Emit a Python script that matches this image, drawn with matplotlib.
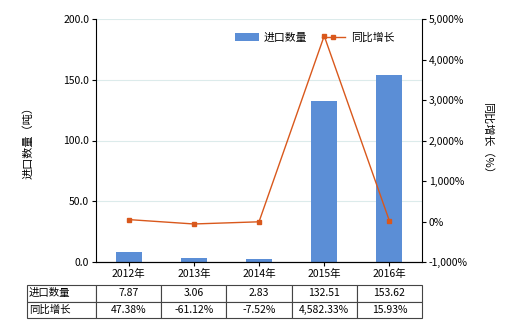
import numpy as np
import matplotlib
matplotlib.use("Agg")
import matplotlib.pyplot as plt
from matplotlib.ticker import FuncFormatter

plt.rcParams['font.family'] = ['Noto Sans CJK SC', 'DejaVu Sans']

years = ["2012年", "2013年", "2014年", "2015年", "2016年"]
qty = [7.87, 3.06, 2.83, 132.51, 153.62]
growth = [47.38, -61.12, -7.52, 4582.33, 15.93]
qty_labels = ["7.87", "3.06", "2.83", "132.51", "153.62"]
growth_labels = ["47.38%", "-61.12%", "-7.52%", "4,582.33%", "15.93%"]

bar_color = "#5B8ED6"
line_color = "#D9581C"
fs = 7.5

fig = plt.figure(figsize=(5.2, 3.3), dpi=100)
ax = fig.add_axes([96 / 520, 1 - 262 / 330, 326 / 520, 243 / 330])
x = np.arange(len(years))

ax.bar(x, qty, width=0.4, color=bar_color, zorder=2, label="进口数量")
ax.set_ylim(0, 200)
ax.set_xlim(-0.5, len(years) - 0.5)
ax.set_yticks(np.arange(0, 201, 50))
ax.yaxis.set_major_formatter(FuncFormatter(lambda v, p: f"{v:.1f}"))
ax.set_xticks(x)
ax.set_xticklabels(years)
ax.grid(axis="y", color="#DCEBEB", lw=0.8, zorder=0)
ax.tick_params(labelsize=fs, length=3, width=0.8, pad=2)
ax.set_ylabel("进口数量（吨）", fontsize=fs + 0.5, labelpad=21)
for s in ["top", "right"]:
    ax.spines[s].set_visible(False)

ax2 = ax.twinx()
ax2.plot(x, growth, color=line_color, lw=1, marker="s", markersize=3.5,
         zorder=3, label="同比增长")
ax2.set_ylim(-1000, 5000)
ax2.set_yticks(np.arange(-1000, 5001, 1000))
ax2.yaxis.set_major_formatter(FuncFormatter(lambda v, p: f"{v:,.0f}%"))
ax2.tick_params(labelsize=fs, length=3, width=0.8, pad=2)
ax2.set_ylabel("同比增长（%）", fontsize=fs + 0.5, rotation=-90, labelpad=18)
for s in ["top", "left"]:
    ax2.spines[s].set_visible(False)

h1, l1 = ax.get_legend_handles_labels()
h2, l2 = ax2.get_legend_handles_labels()
ax2.legend(h1 + h2, l1 + l2, ncol=2, frameon=False, fontsize=fs + 0.3,
           loc="upper right", bbox_to_anchor=(0.945, 0.985),
           handlelength=2.2, columnspacing=1.3, handletextpad=0.5)

# data table under the chart
cell_text = [["进口数量"] + qty_labels, ["同比增长"] + growth_labels]
w0 = 69 / 326
wc = 1 / len(years)
tbl = ax.table(cellText=cell_text,
               colWidths=[w0] + [wc] * len(years),
               bbox=[-w0, -56 / 243, 1 + w0, 33 / 243],
               cellLoc="center")
tbl.auto_set_font_size(False)
tbl.set_fontsize(fs)
for (r, c), cell in tbl.get_celld().items():
    cell.set_edgecolor("#444444")
    cell.set_linewidth(0.8)
    if c == 0:
        cell.set_text_props(ha="left")
        cell.PAD = 0.03

fig.savefig("out.png", dpi=100)
